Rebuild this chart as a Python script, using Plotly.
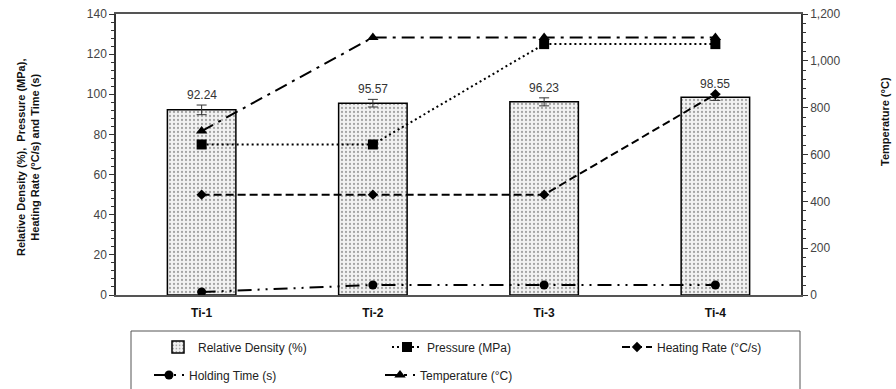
import plotly.graph_objects as go

categories = ["Ti-1", "Ti-2", "Ti-3", "Ti-4"]
rel_density = [92.24, 95.57, 96.23, 98.55]
rel_density_err = [2.4, 1.9, 2.0, 1.6]
pressure = [75, 75, 125, 125]
heating_rate = [50, 50, 50, 100]
holding_time = [1.5, 5, 5, 5]
temperature = [700, 1100, 1100, 1100]

FONT = "Liberation Sans, Arial, sans-serif"
NARROW = "Liberation Sans Narrow, Arial Narrow, Liberation Sans, Arial, sans-serif"

fig = go.Figure()

fig.add_trace(go.Bar(
    x=categories, y=rel_density, name="Relative Density (%)",
    marker=dict(color="#eeeeee", line=dict(color="black", width=1.5),
                pattern=dict(shape=".", size=4, solidity=0.25, fgcolor="#555", bgcolor="#f2f2f2")),
    error_y=dict(type="data", array=rel_density_err, visible=True, color="#333", thickness=1, width=5),
    width=0.4, legend="legend",
))
fig.add_trace(go.Scatter(
    x=categories, y=pressure, name="Pressure (MPa)", mode="lines+markers",
    line=dict(color="black", width=2, dash="2px,3px"),
    marker=dict(symbol="square", size=10, color="black"), legend="legend2",
))
fig.add_trace(go.Scatter(
    x=categories, y=heating_rate, name="Heating Rate (°C/s)", mode="lines+markers",
    line=dict(color="black", width=2, dash="8px,4px"),
    marker=dict(symbol="diamond", size=8, color="black"), legend="legend3",
))
fig.add_trace(go.Scatter(
    x=categories, y=holding_time, name="Holding Time (s)", mode="lines+markers",
    line=dict(color="black", width=2, dash="14px,6px,2px,6px,2px,6px"),
    marker=dict(symbol="circle", size=9, color="black"), legend="legend4",
))
fig.add_trace(go.Scatter(
    x=categories, y=temperature, name="Temperature (°C)", mode="lines+markers",
    line=dict(color="black", width=2, dash="13px,6px,3px,6px"),
    marker=dict(symbol="triangle-up", size=10, color="black"), yaxis="y2", legend="legend5",
))

for c, v, e in zip(categories, rel_density, rel_density_err):
    fig.add_annotation(x=c, y=v + e, text=f"{v:.2f}", showarrow=False, yanchor="bottom",
                       yshift=1, font=dict(family=FONT, size=12, color="#333"))

# axis titles
fig.add_annotation(xref="paper", yref="paper", x=(28 - 116) / 685, y=(295 - 158) / 281,
                   text="Relative Density (%),  Pressure (MPa),<br>Heating Rate (°C/s) and Time (s)",
                   textangle=-90, showarrow=False, xanchor="center", yanchor="middle",
                   font=dict(family=NARROW, size=11, color="#111", weight="bold"))
fig.add_annotation(xref="paper", yref="paper", x=(885 - 116) / 685, y=(295 - 122) / 281,
                   text="Temperature (°C)", textangle=-90, showarrow=False,
                   xanchor="center", yanchor="middle",
                   font=dict(family=NARROW, size=11, color="#111", weight="bold"))

legend_common = dict(bgcolor="rgba(0,0,0,0)", borderwidth=0, font=dict(family=FONT, size=12, color="#222"),
                     xanchor="left", yanchor="middle", orientation="v", xref="container", yref="container")

fig.update_layout(
    width=896, height=389,
    margin=dict(l=116, r=95, t=14, b=94, autoexpand=False),
    plot_bgcolor="white", paper_bgcolor="white",
    showlegend=True,
    bargap=0.6,
    font=dict(family=FONT, size=12, color="#333"),
    xaxis=dict(showline=True, linecolor="#555", linewidth=1.5, mirror=True, ticks="", automargin=False,
               ticklabelstandoff=6,
               tickfont=dict(family=FONT, size=12, color="#111", weight="bold"), showgrid=False),
    yaxis=dict(range=[0, 140], dtick=20, showline=True, linecolor="#333", linewidth=1.5,
               ticks="outside", ticklen=5, tickcolor="#333", showgrid=False, zeroline=False,
               automargin=False,
               minor=dict(dtick=4, ticks="outside", ticklen=3, tickcolor="#333"),
               tickfont=dict(family=FONT, size=12, color="#444")),
    yaxis2=dict(range=[0, 1200], dtick=200, overlaying="y", side="right", showline=True,
                linecolor="#333", linewidth=1.5, ticks="outside", ticklen=5, tickcolor="#333",
                showgrid=False, zeroline=False, tickformat=",", automargin=False,
                minor=dict(dtick=40, ticks="outside", ticklen=3, tickcolor="#333"),
                tickfont=dict(family=FONT, size=12, color="#444")),
    legend=dict(x=158 / 896, y=1 - 347 / 389, **legend_common),
    legend2=dict(x=387 / 896, y=1 - 347 / 389, **legend_common),
    legend3=dict(x=617 / 896, y=1 - 347 / 389, **legend_common),
    legend4=dict(x=149 / 896, y=1 - 375 / 389, **legend_common),
    legend5=dict(x=380 / 896, y=1 - 375 / 389, **legend_common),
)

fig.add_shape(type="rect", xref="paper", yref="paper", x0=(131 - 116) / 685, x1=(800 - 116) / 685,
              y0=-(392 - 295) / 281, y1=-(331 - 295) / 281, line=dict(color="#555", width=1),
              fillcolor="rgba(0,0,0,0)")

fig.write_html("out.html", config={"displayModeBar": False},
               post_script="document.body.style.margin='0px';document.body.style.overflow='hidden';")
